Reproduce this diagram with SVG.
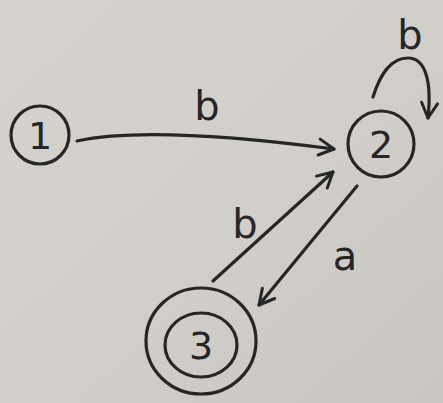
<svg xmlns="http://www.w3.org/2000/svg" width="443" height="403" viewBox="0 0 443 403">
<defs>
<linearGradient id="bg" x1="0" y1="0" x2="1" y2="1">
<stop offset="0" stop-color="#d6d3cf"/>
<stop offset="0.5" stop-color="#d2cfcb"/>
<stop offset="1" stop-color="#c9c6c1"/>
</linearGradient>
<marker id="arr" viewBox="0 0 20 20" refX="17" refY="10" markerWidth="20" markerHeight="20" markerUnits="userSpaceOnUse" orient="auto">
<path d="M2,2 L17,10 L2,18" fill="none" stroke="#262626" stroke-width="3" stroke-linecap="round" stroke-linejoin="round"/>
</marker>
<style>
.st{fill:none;stroke:#262626;stroke-width:3.2;stroke-linecap:round}
.num{font-family:"DejaVu Sans",sans-serif;font-size:38px;fill:#262626;text-anchor:middle}
.lab{font-family:"DejaVu Sans",sans-serif;font-size:40px;fill:#262626;text-anchor:middle}
.e{fill:none;stroke:#262626;stroke-width:3.2;stroke-linecap:round;marker-end:url(#arr)}
</style>
</defs>
<rect width="443" height="403" fill="url(#bg)"/>
<g id="connectors">
<path class="e" d="M77,141 Q150,125 334,149"/>
<text class="lab" x="207" y="120">b</text>
<path class="e" d="M373,97 C380,75 390,58 408,58 C425,58 432,80 428,118"/>
<text class="lab" x="410" y="49">b</text>
<path class="e" d="M213,281 L333,172"/>
<text class="lab" x="245" y="238">b</text>
<path class="e" d="M357,186 L259,305"/>
<text class="lab" x="345" y="270">a</text>
</g>
<g id="node1">
<ellipse class="st" cx="40" cy="135" rx="29" ry="29"/>
<text class="num" x="40" y="149">1</text>
</g>
<g id="node2">
<ellipse class="st" cx="381" cy="144" rx="33" ry="33"/>
<text class="num" x="381" y="158">2</text>
</g>
<g id="node3">
<ellipse class="st" cx="201" cy="341" rx="55" ry="53"/>
<ellipse class="st" cx="201" cy="345" rx="36" ry="32"/>
<text class="num" x="201" y="359">3</text>
</g>
</svg>
